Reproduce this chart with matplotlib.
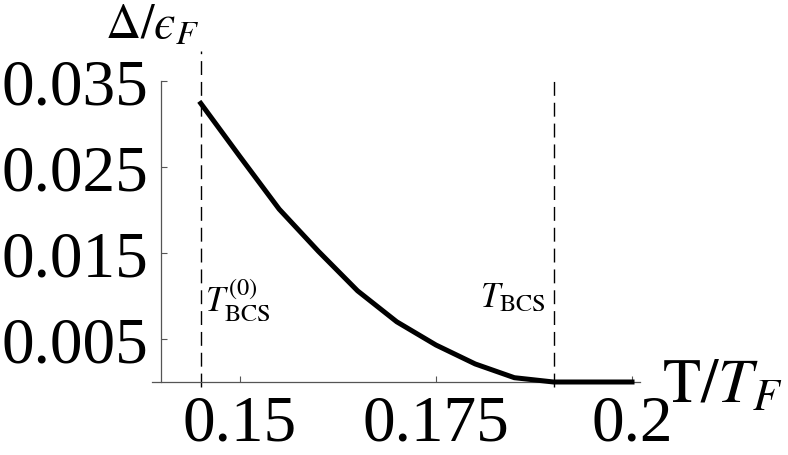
import matplotlib
matplotlib.use("Agg")
import matplotlib.pyplot as plt

# ----- Datos -----
temp = [0.145, 0.150, 0.155, 0.160, 0.165, 0.170, 0.175, 0.180, 0.185, 0.190, 0.195, 0.200]
gap = [0.0324, 0.0262, 0.0201, 0.0152, 0.0106, 0.0070, 0.0043, 0.0021, 0.0005, 0.0, 0.0, 0.0]

t_bcs0 = 0.145
t_bcs = 0.19

xticks = [0.15, 0.175, 0.2]
xtick_labels = ["0.15", "0.175", "0.2"]
yticks = [0.005, 0.015, 0.025, 0.035]
ytick_labels = ["0.005", "0.015", "0.025", "0.035"]

# ----- Estilo -----
plt.rcParams["font.family"] = ["Liberation Serif", "DejaVu Serif"]
plt.rcParams["mathtext.fontset"] = "stix"
AXIS_COLOR = "#555555"

fig = plt.figure(figsize=(7.88, 4.56), dpi=100)
ax = fig.add_axes([152 / 788, 73 / 456, 488 / 788, 301 / 456])

ax.plot(temp, gap, color="black", lw=3.6, clip_on=False, solid_joinstyle="miter", zorder=3)

# lineas verticales punteadas
ax.plot([t_bcs0, t_bcs0], [-0.0006, 0.0385], color="black", lw=1.0,
        dashes=(10, 5), clip_on=False)
ax.plot([t_bcs, t_bcs], [-0.0006, 0.0352], color="black", lw=1.0,
        dashes=(10, 5), clip_on=False)

ax.set_xlim(0.13878, 0.20102)
ax.set_ylim(0, 0.035)

for side in ["top", "right"]:
    ax.spines[side].set_visible(False)
ax.spines["left"].set_position(("data", 0.1399))
ax.spines["bottom"].set_position(("data", 0))
for side in ["left", "bottom"]:
    ax.spines[side].set_color(AXIS_COLOR)
    ax.spines[side].set_linewidth(0.9)

ax.set_xticks(xticks)
ax.set_xticklabels(xtick_labels)
ax.set_yticks(yticks)
ax.set_yticklabels(ytick_labels)
ax.tick_params(axis="both", direction="in", length=4, width=0.8,
               color=AXIS_COLOR, labelsize=47)
ax.tick_params(axis="x", pad=9)
ax.tick_params(axis="y", pad=9)

# ----- Textos -----
ax.text(0.13278, 0.0401, "$\\Delta/\u03f5_F$", fontsize=35, clip_on=False)
ax.text(0.20383, -0.00233, r"$\mathrm{T}/T_F$", fontsize=45, clip_on=False)
ax.text(0.14554, 0.00826, r"$T_{\mathrm{BCS}}^{(0)}$", fontsize=25)
ax.text(0.18061, 0.00884, r"$T_{\mathrm{BCS}}$", fontsize=25)

fig.savefig("out.png", dpi=100)
